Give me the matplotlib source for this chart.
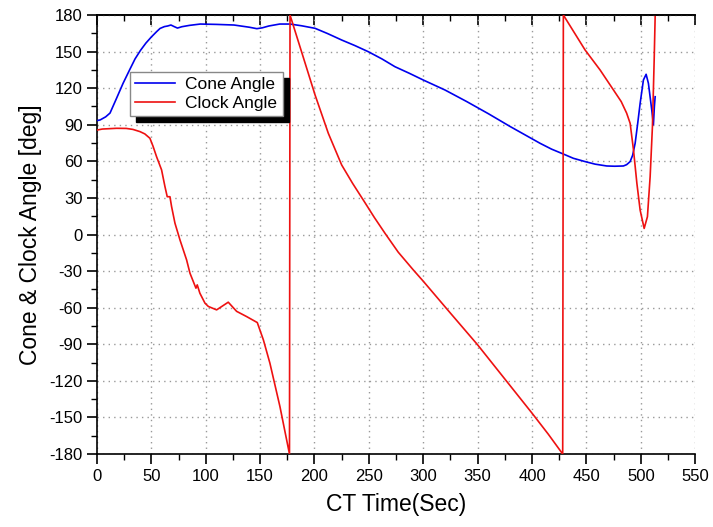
import matplotlib
matplotlib.use('Agg')
import matplotlib.pyplot as plt
from matplotlib.ticker import MultipleLocator
from matplotlib.patches import Rectangle

plt.rcParams['font.family'] = ['Liberation Sans', 'DejaVu Sans']
plt.rcParams['axes.unicode_minus'] = False

# Cone angle (blue)
cone_t = [0, 3, 8, 12, 18, 24, 30, 35, 40, 45, 50, 55, 58, 62, 65, 68, 71, 74, 78, 85,
          95, 110, 126, 140, 147, 152, 158, 168, 177.5, 188, 200.5, 212, 225, 237, 249.5,
          262, 274, 287, 300, 320, 340, 360, 380, 400, 407.4, 418, 428.8, 438, 448.8,
          458, 468.7, 476, 484, 487, 490.2, 492.5, 494.8, 497, 499.4, 502.4, 504.9, 507,
          510.1, 511.6, 512.5, 513.2]
cone_deg = [93.4, 94, 96.5, 99.6, 111.7, 124, 135, 144, 151, 157, 162, 166.5, 169, 170.5,
            171, 171.8, 170.5, 169.3, 170.4, 171.5, 172.6, 172.3, 171.8, 170, 168.8, 169.5,
            171, 172.6, 172.6, 171.2, 169.1, 164.8, 159.5, 155, 149.9, 144, 137.6, 132.3,
            126.7, 118.5, 109, 99, 88.5, 78.5, 74.8, 70, 66, 62.5, 59.8, 57.7, 56.2, 56,
            56.2, 57.3, 59.8, 65, 74.8, 90, 107.6, 126.7, 131.4, 124, 102, 90, 105, 113]

# Clock angle (red), wraps at +/-180
clock_t = [0.3, 5, 18, 27, 33, 39.5, 44, 48.7, 51.5, 54.8, 59.4, 62.5, 64.6, 67.1, 68.6,
           71.7, 76.3, 82.4, 85.5, 89.2, 91, 92.2, 94.6, 99.3, 102.4, 110, 120.7, 128.4,
           137.6, 147.4, 153, 159, 168.2, 177, 177.5, 187, 200.5, 212.7, 225, 235, 246.5,
           255, 264.9, 277, 290.8, 300, 325, 350, 375, 400, 415, 428.2, 428.8, 448.8,
           462.6, 474.9, 482, 487, 490.2, 493.3, 496.4, 499.4, 503.1, 506.1, 508.6, 510.7,
           512.3, 513.2]
clock_deg = [85.7, 86.5, 87.1, 87, 86.2, 84.4, 82.5, 78.9, 72.5, 63.8, 53, 39.3, 31, 31,
             22.9, 9.3, -4.4, -20.8, -31.7, -40, -44, -41.3, -48.1, -56.3, -59, -61.8,
             -55.5, -63, -67.3, -72.2, -86.4, -105.5, -141, -180, 180, 153, 114.5, 83,
             57, 42, 26, 14, 0.9, -14.5, -29, -38.3, -64.5, -90.5, -118.5, -146.5,
             -163.8, -180, 180, 151.3, 134.9, 118.5, 109, 99.5, 91.2, 69.3, 42, 20, 5,
             14.6, 47.5, 88.5, 143, 178.6]

fig = plt.figure(figsize=(7.13, 5.27), dpi=100)
ax = fig.add_axes([0.136, 0.1385, 0.839, 0.833])

ax.plot(cone_t, cone_deg, color='#0000ee', lw=1.2, label='Cone Angle', zorder=3)
ax.plot(clock_t, clock_deg, color='#ee1111', lw=1.2, label='Clock Angle', zorder=3)

ax.set_xlim(0, 550)
ax.set_ylim(-180, 180)
ax.xaxis.set_major_locator(MultipleLocator(50))
ax.xaxis.set_minor_locator(MultipleLocator(25))
ax.yaxis.set_major_locator(MultipleLocator(30))
ax.yaxis.set_minor_locator(MultipleLocator(15))

ax.grid(True, which='major', color='#999999', linestyle=(0, (1, 3)), lw=1)
ax.spines['right'].set_visible(False)
for s in ['left', 'bottom', 'top']:
    ax.spines[s].set_linewidth(1.2)

ax.tick_params(which='major', direction='out', length=7, width=1.2, labelsize=12)
ax.tick_params(which='minor', direction='out', length=4, width=1)

top = ax.secondary_xaxis('top')
top.xaxis.set_major_locator(MultipleLocator(50))
top.xaxis.set_minor_locator(MultipleLocator(25))
top.tick_params(which='major', direction='in', length=7, width=1.2, labeltop=False)
top.tick_params(which='minor', direction='in', length=4, width=1)
top.spines['top'].set_linewidth(1.2)

ax.set_xlabel('CT Time(Sec)', fontsize=16.5, labelpad=7)
ax.set_ylabel('Cone & Clock Angle [deg]', fontsize=16.5, labelpad=5)

leg = ax.legend(loc='upper left', bbox_to_anchor=(0.055, 0.870), borderaxespad=0,
                fancybox=False, framealpha=1, edgecolor='#888888', fontsize=12.5,
                handlelength=2.3, labelspacing=0.2, borderpad=0.3, handletextpad=0.6)
leg.get_frame().set_linewidth(1)

# black drop shadow behind legend
fig.canvas.draw()
bb = leg.get_window_extent().transformed(fig.transFigure.inverted())
dx = 6 / 713
dy = 6 / 527
shadow = Rectangle((bb.x0 + dx, bb.y0 - dy), bb.width, bb.height,
                   transform=fig.transFigure, color='black', zorder=4.5, clip_on=False)
ax.add_patch(shadow)

fig.savefig('out.png', dpi=100)
